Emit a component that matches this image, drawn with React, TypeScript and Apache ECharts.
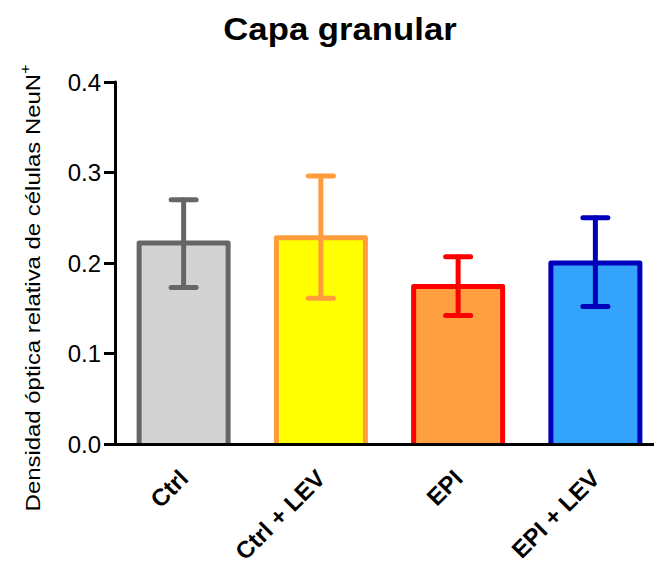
import React, { useEffect, useRef } from 'react';
import * as echarts from 'echarts';

const categories = ['Ctrl', 'Ctrl + LEV', 'EPI', 'EPI + LEV'];
const means = [0.222, 0.228, 0.174, 0.2];
const errLow = [0.173, 0.161, 0.142, 0.152];
const errHigh = [0.27, 0.296, 0.207, 0.25];
const fillColors = ['#d3d3d3', '#ffff00', '#ff9f40', '#33a3fc'];
const edgeColors = ['#666666', '#ff9c3c', '#ff0000', '#0000bb'];

const titleText = 'Capa granular';
const yNameMain = 'Densidad óptica relativa de células NeuN';
const yNameSup = '+';

const FONT = '"Liberation Sans", Arial, Helvetica, sans-serif';

export default function App() {
  const ref = useRef<HTMLDivElement>(null);
  useEffect(() => {
    if (!ref.current) return;
    const chart = echarts.init(ref.current, undefined, { renderer: 'svg' });
    chart.setOption({
      animation: false,
      textStyle: { fontFamily: FONT },
      grid: {
        left: 115,
        top: 82,
        width: 549,
        height: 362,
        containLabel: false,
        outerBoundsMode: 'none',
      },
      graphic: [
        {
          type: 'text',
          x: 340,
          y: 29,
          scaleX: 1.12,
          style: {
            text: titleText,
            fill: '#000',
            fontSize: 31,
            fontWeight: 'bold',
            fontFamily: FONT,
            align: 'center',
            verticalAlign: 'middle',
            textAlign: 'center',
            textVerticalAlign: 'middle',
          },
        },
        {
          type: 'text',
          x: 33,
          y: 288,
          rotation: Math.PI / 2,
          scaleX: 1.14,
          style: {
            text: `{a|${yNameMain}}{s|${yNameSup}}`,
            fill: '#000',
            fontFamily: FONT,
            align: 'center',
            verticalAlign: 'middle',
            textAlign: 'center',
            textVerticalAlign: 'middle',
            rich: {
              a: { fontSize: 21, lineHeight: 31, fontFamily: FONT, fill: '#000' },
              s: { fontSize: 14, lineHeight: 14, verticalAlign: 'top', fontFamily: FONT, fill: '#000' },
            },
          },
        },
      ],
      xAxis: {
        type: 'category',
        data: categories,
        z: 10,
        axisLine: { lineStyle: { color: '#000', width: 3 } },
        axisTick: { alignWithLabel: true, length: 11, lineStyle: { color: '#000', width: 3 } },
        axisLabel: {
          interval: 0,
          rotate: 45,
          margin: 30,
          fontSize: 24,
          fontWeight: 'bold',
          color: '#000',
          fontFamily: FONT,
        },
        splitLine: { show: false },
      },
      yAxis: {
        type: 'value',
        min: 0,
        max: 0.4,
        interval: 0.1,
        z: 10,
        axisLine: { show: true, lineStyle: { color: '#000', width: 3 } },
        axisTick: { show: true, length: 11, lineStyle: { color: '#000', width: 3 } },
        axisLabel: {
          margin: 14,
          fontSize: 24,
          color: '#000',
          fontFamily: FONT,
          formatter: (v: number) => v.toFixed(1),
        },
        splitLine: { show: false },
      },
      series: [
        {
          type: 'bar',
          barWidth: 89,
          data: means.map((v, i) => ({
            value: v,
            itemStyle: { color: fillColors[i], borderWidth: 0 },
          })),
          z: 2,
        },
        {
          type: 'custom',
          z: 5,
          data: categories.map((_, i) => [i, means[i], errLow[i], errHigh[i]]),
          encode: { x: 0, y: [1, 2, 3] },
          renderItem: (params: any, api: any) => {
            const x = api.value(0);
            const pTop = api.coord([x, api.value(1)]);
            const pBase = api.coord([x, 0]);
            const pLo = api.coord([x, api.value(2)]);
            const pHi = api.coord([x, api.value(3)]);
            const half = 12.5;
            const bw = 44.5;
            const color = edgeColors[params.dataIndex];
            const style = { stroke: color, lineWidth: 5, lineCap: 'round' };
            return {
              type: 'group',
              children: [
                {
                  type: 'polyline',
                  shape: {
                    points: [
                      [pTop[0] - bw, pBase[1]],
                      [pTop[0] - bw, pTop[1]],
                      [pTop[0] + bw, pTop[1]],
                      [pTop[0] + bw, pBase[1]],
                    ],
                  },
                  style: { stroke: color, lineWidth: 5, fill: 'none', lineJoin: 'round' },
                },
                { type: 'line', shape: { x1: pHi[0], y1: pHi[1], x2: pLo[0], y2: pLo[1] }, style },
                { type: 'line', shape: { x1: pHi[0] - half, y1: pHi[1], x2: pHi[0] + half, y2: pHi[1] }, style },
                { type: 'line', shape: { x1: pLo[0] - half, y1: pLo[1], x2: pLo[0] + half, y2: pLo[1] }, style },
              ],
            };
          },
        },
      ],
    });
    return () => chart.dispose();
  }, []);
  return (
    <div
      ref={ref}
      style={{ position: 'absolute', left: 0, top: 0, width: 654, height: 565, background: '#fff' }}
    />
  );
}
